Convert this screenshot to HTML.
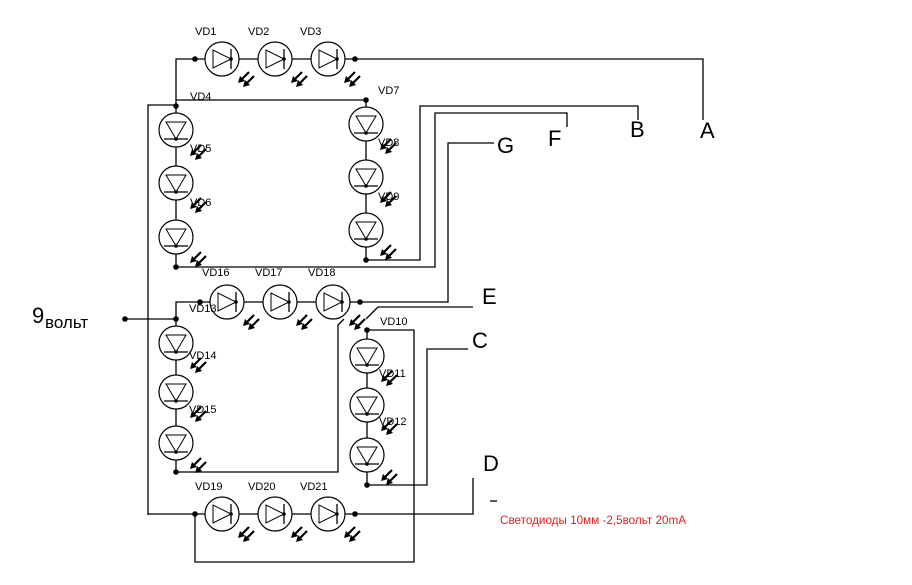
<!DOCTYPE html>
<html><head><meta charset="utf-8"><style>
html,body{margin:0;padding:0;background:#fff;}
svg{display:block;}
text{font-family:"Liberation Sans",sans-serif;}
</style></head><body>
<svg width="912" height="585" viewBox="0 0 912 585" xmlns="http://www.w3.org/2000/svg">
<defs>
<g id="arr">
 <line x1="9" y1="-5" x2="1" y2="3" stroke="#000" stroke-width="2.2"/>
 <polygon points="-2,6 0,-1 5,4" fill="#000"/>
 <line x1="14" y1="-1" x2="6" y2="7" stroke="#000" stroke-width="2.2"/>
 <polygon points="3,10 5,3 10,8" fill="#000"/>
</g>
<g id="dh">
 <circle cx="0" cy="0" r="17" fill="#fff" stroke="#000" stroke-width="1.2"/>
 <polygon points="-9,-9 -9,9 9,0" fill="none" stroke="#000" stroke-width="1"/>
 <line x1="9" y1="-10" x2="9" y2="10" stroke="#000" stroke-width="1.3"/>
 <circle cx="9" cy="0" r="1.8" fill="#000"/>
 <use href="#arr" x="18" y="18"/>
</g>
<g id="dv">
 <circle cx="0" cy="0" r="17" fill="#fff" stroke="#000" stroke-width="1.2"/>
 <polygon points="-10,-8 10,-8 0,9" fill="none" stroke="#000" stroke-width="1"/>
 <line x1="-12" y1="9" x2="12" y2="9" stroke="#000" stroke-width="1.3"/>
 <circle cx="0" cy="9" r="1.8" fill="#000"/>
 <use href="#arr" x="16" y="20"/>
</g>
</defs>
<g fill="none" stroke="#000" stroke-width="1.3">
 <polyline points="176,267 176,59 703,59 703,120"/>
 <polyline points="176,100 366,100 366,260"/>
 <polyline points="176,267 435,267 435,113 567,113 567,127"/>
 <polyline points="366,260 420,260 420,106 638,106 638,120"/>
 <polyline points="148,515 148,105 176,105"/>
 <polyline points="360,302 448,302 448,143 494,143"/>
 <polyline points="176,472 176,302 360,302"/>
 <polyline points="125,319 176,319"/>
 <polyline points="176,472 338,472 338,325 344,319"/>
 <polyline points="366,319 378,307 473,307"/>
 <polyline points="367,485 367,330 414,330 414,562 195,562 195,514"/>
 <polyline points="367,485 427,485 427,349 468,349"/>
 <polyline points="148,514 473,514 473,478"/>
 <line x1="490" y1="501" x2="497" y2="501"/>
</g>
<g fill="#000">
 <circle cx="195" cy="59" r="2.8"/><circle cx="355" cy="59" r="2.8"/>
 <circle cx="176" cy="106" r="2.8"/><circle cx="366" cy="100" r="2.8"/>
 <circle cx="176" cy="267" r="2.8"/><circle cx="366" cy="260" r="2.8"/>
 <circle cx="200" cy="302" r="2.8"/><circle cx="360" cy="302" r="2.8"/>
 <circle cx="176" cy="319" r="2.8"/><circle cx="125" cy="319" r="2.8"/>
 <circle cx="176" cy="472" r="2.8"/><circle cx="367" cy="330" r="2.8"/>
 <circle cx="367" cy="485" r="2.8"/>
 <circle cx="195" cy="514" r="2.8"/><circle cx="355" cy="514" r="2.8"/>
</g>
<use href="#dh" x="222" y="59"/><use href="#dh" x="275" y="59"/><use href="#dh" x="328" y="59"/>
<use href="#dv" x="176" y="130"/><use href="#dv" x="176" y="183"/><use href="#dv" x="176" y="237"/>
<use href="#dv" x="366" y="124"/><use href="#dv" x="366" y="177"/><use href="#dv" x="366" y="230"/>
<use href="#dh" x="227" y="302"/><use href="#dh" x="280" y="302"/><use href="#dh" x="333" y="302"/>
<use href="#dv" x="176" y="343"/><use href="#dv" x="176" y="392"/><use href="#dv" x="176" y="443"/>
<use href="#dv" x="367" y="356"/><use href="#dv" x="367" y="405"/><use href="#dv" x="367" y="455"/>
<use href="#dh" x="222" y="514"/><use href="#dh" x="275" y="514"/><use href="#dh" x="328" y="514"/>
<g font-size="11" fill="#000">
 <text x="195" y="35">VD1</text><text x="248" y="35">VD2</text><text x="300" y="35">VD3</text>
 <text x="190" y="100">VD4</text><text x="378" y="94">VD7</text>
 <text x="190" y="152">VD5</text><text x="190" y="206">VD6</text>
 <text x="378" y="146">VD8</text><text x="378" y="200">VD9</text>
 <text x="202" y="276">VD16</text><text x="255" y="276">VD17</text><text x="308" y="276">VD18</text>
 <text x="189" y="312">VD13</text>
 <text x="189" y="359">VD14</text><text x="189" y="413">VD15</text>
 <text x="380" y="325">VD10</text><text x="379" y="377">VD11</text><text x="379" y="425">VD12</text>
 <text x="195" y="490">VD19</text><text x="248" y="490">VD20</text><text x="300" y="490">VD21</text>
</g>
<g font-size="22" fill="#000">
 <text x="700" y="138">A</text><text x="630" y="137">B</text><text x="548" y="146">F</text>
 <text x="497" y="153">G</text><text x="482" y="304">E</text><text x="472" y="348">C</text><text x="483" y="471">D</text>
 <text x="32" y="323">9</text>
</g>
<text x="45" y="328" font-size="17" fill="#000">вольт</text>
<text x="500" y="524" font-size="11.7" fill="#e02020">Светодиоды 10мм -2,5вольт 20mA</text>
</svg>
</body></html>
